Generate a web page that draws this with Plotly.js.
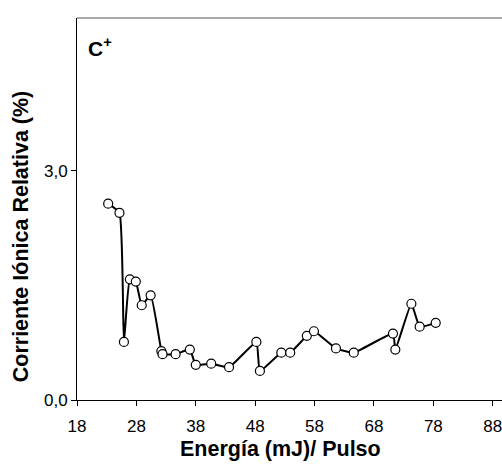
<!DOCTYPE html>
<html>
<head>
<meta charset="utf-8">
<script src="https://cdn.plot.ly/plotly-3.0.1.min.js"></script>
<style>html,body{margin:0;padding:0;background:#fff;}#chart{width:502px;height:466px;}</style>
</head>
<body>
<div id="chart"></div>
<script>
// Energy (mJ / pulse)
const energia = [23.25, 25.15, 25.9, 26.9, 27.9, 28.9, 30.4, 32.2, 32.4, 34.6, 37.0, 38.0, 40.6, 43.6, 48.2, 48.8, 52.4, 53.9, 56.7, 57.9, 61.6, 64.6, 71.2, 71.6, 74.3, 75.7, 78.4];
// Relative ionic current (%)
const corriente = [2.57, 2.45, 0.76, 1.58, 1.55, 1.24, 1.37, 0.64, 0.60, 0.60, 0.66, 0.46, 0.475, 0.43, 0.76, 0.38, 0.62, 0.62, 0.84, 0.90, 0.675, 0.62, 0.87, 0.66, 1.26, 0.96, 1.01];
const xTicks = [18, 28, 38, 48, 58, 68, 78, 88];
const yTicks = [0, 3];
const yTickText = ["0,0", "3,0"];
const xTitle = 'Energía (mJ)/ Pulso';
const yTitle = 'Corriente Iónica Relativa (%)';

const trace = {
  x: energia, y: corriente, type: 'scatter', mode: 'lines+markers',
  line: {color: '#000', width: 2, shape: 'spline', smoothing: 0.4},
  marker: {symbol: 'circle', size: 9, color: '#fff', line: {color: '#000', width: 1.2}},
  cliponaxis: false, hoverinfo: 'none'
};

const font = 'Liberation Sans, Arial, sans-serif';
const layout = {
  width: 502, height: 466,
  margin: {l: 76.5, r: 0, t: 18, b: 65.7},
  paper_bgcolor: '#fff', plot_bgcolor: '#fff',
  showlegend: false,
  font: {family: font, color: '#000', size: 17},
  xaxis: {
    range: [18, 89.56], tickvals: xTicks, ticktext: xTicks.map(String),
    ticks: 'outside', ticklen: 5, tickwidth: 1, tickcolor: '#000',
    ticklabelstandoff: 6, ticklabeloverflow: 'allow',
    showline: true, linecolor: '#000', linewidth: 1, mirror: false,
    showgrid: false, zeroline: false,
    tickfont: {family: font, size: 17, color: '#000'}
  },
  yaxis: {
    range: [0, 5], tickvals: yTicks, ticktext: yTickText,
    ticks: 'outside', ticklen: 5, tickwidth: 1, tickcolor: '#000',
    showline: true, linecolor: '#000', linewidth: 1,
    showgrid: false, zeroline: false,
    tickfont: {family: font, size: 17, color: '#000'}
  },
  shapes: [{type: 'line', xref: 'paper', yref: 'paper', x0: 0, x1: 1, y0: 1, y1: 1, line: {color: '#555', width: 1}}],
  annotations: [
    {
      text: '<b>C<sup>+</sup></b>', xref: 'paper', yref: 'paper', x: 0.02, y: 0.925,
      xanchor: 'left', yanchor: 'middle', showarrow: false,
      font: {family: font, size: 21, color: '#000'}
    },
    {
      text: '<b>' + xTitle + '</b>', xref: 'paper', yref: 'paper', x: 0.4794, y: -0.127,
      xanchor: 'center', yanchor: 'middle', showarrow: false,
      font: {family: font, size: 21.5, color: '#000'}
    },
    {
      text: '<b>' + yTitle + '</b>', xref: 'paper', yref: 'paper', x: -0.1328, y: 0.4275,
      xanchor: 'center', yanchor: 'middle', showarrow: false, textangle: -90,
      font: {family: font, size: 21.5, color: '#000'}
    }
  ]
};

Plotly.newPlot('chart', [trace], layout, {staticPlot: true, displayModeBar: false});
</script>
</body>
</html>
